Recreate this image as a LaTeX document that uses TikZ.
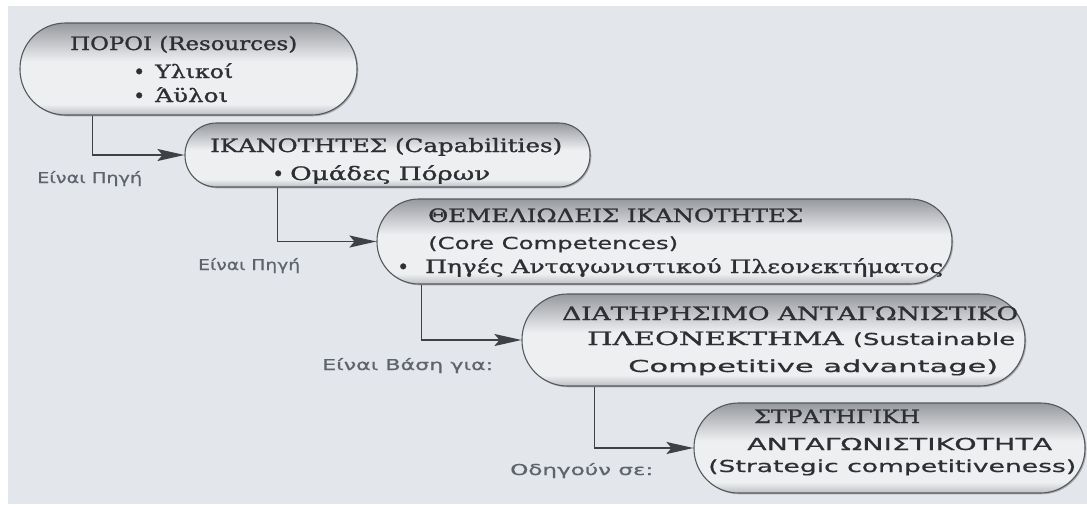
\documentclass[tikz,border=0pt]{standalone}
\usepackage{graphicx}
\usepackage{fontspec}
\setmainfont{DejaVu Serif}[FakeBold=1.2]
\setsansfont{DejaVu Sans}[FakeBold=0.6]
\usetikzlibrary{arrows.meta,shadows}

\definecolor{paper}{RGB}{227,230,235}
\definecolor{ink}{RGB}{45,47,52}
\definecolor{labelink}{RGB}{95,100,108}
\definecolor{wire}{RGB}{62,66,70}
\definecolor{rim}{RGB}{85,88,93}
\definecolor{pilltop}{RGB}{150,153,158}
\definecolor{pillhi}{RGB}{238,239,241}
\definecolor{pillbot}{RGB}{188,191,195}

% glossy vertical fill of the rounded boxes (path maps to 25bp..75bp)
\pgfdeclareverticalshading{pill}{100bp}{color(0bp)=(pillbot); color(25bp)=(pillbot);
  color(31bp)=(pillhi); color(54bp)=(pillhi); color(75bp)=(pilltop); color(100bp)=(pilltop)}

% set a line of text to a given width, keeping its height
\newcommand{\fitw}[2]{\resizebox{#1pt}{\height}{#2}}
% bullet in a box of given width; it adds no height to the line
\newcommand{\bul}[1]{\makebox[#1pt][l]{\raisebox{-0.8pt}[0pt][0pt]{\makebox[14pt][c]{\fontsize{20}{20}\selectfont•}}}}

\tikzset{
  pillbox/.style={draw=rim, line width=1.1pt, shading=pill, inner sep=0pt,
    drop shadow={shadow xshift=1.3pt, shadow yshift=-1.3pt, fill=black, opacity=0.25}},
  txt/.style={anchor=base west, inner sep=0pt, text=ink,
    font=\fontsize{18.5}{20}\selectfont},
  stxt/.style={txt, font=\sffamily\fontsize{16.5}{20}\selectfont},
  lbl/.style={anchor=base west, inner sep=0pt, text=labelink,
    font=\sffamily\fontsize{15}{17}\selectfont},
  wirearrow/.style={draw=wire, line width=1.9pt,
    -{Stealth[length=27pt,width=12pt,inset=5pt]}}
}

\begin{document}
\begin{tikzpicture}[x=1pt,y=-1pt]
  % page
  \fill[white] (0,0) rectangle (1087,504);
  \fill[paper] (8,6) rectangle (1087,504);
  \useasboundingbox (0,0) rectangle (1087,504);

  % boxes
  \node[pillbox, minimum width=337pt, minimum height=92pt, rounded corners=45.5pt]
    (res) at (188.5,69) {};
  \node[pillbox, minimum width=405pt, minimum height=64pt, rounded corners=31.5pt]
    (cap) at (387.5,155) {};
  \node[pillbox, minimum width=575pt, minimum height=85pt, rounded corners=42pt]
    (core) at (664.5,241.5) {};
  \node[pillbox, minimum width=503pt, minimum height=92pt, rounded corners=45.5pt]
    (sca) at (773.5,340) {};
  \node[pillbox, minimum width=391pt, minimum height=90pt, rounded corners=44.5pt]
    (sc) at (889.5,448) {};

  % box texts
  \node[txt] (res-t)  at (70,50)   {\fitw{227}{ΠΟΡΟΙ (Resources)}};
  \node[txt] (res-b1) at (132,78)  {\bul{23}\fitw{78}{Υλικοί}};
  \node[txt] (res-b2) at (132,102) {\bul{23}\fitw{73}{Άϋλοι}};

  \node[txt] (cap-t) at (210,152) {\fitw{352}{ΙΚΑΝΟΤΗΤΕΣ (Capabilities)}};
  \node[txt] (cap-b) at (271,180) {\bul{19}\fitw{200}{Ομάδες Πόρων}};

  \node[txt]  (core-t) at (428,222) {\fitw{375}{ΘΕΜΕΛΙΩΔΕΙΣ ΙΚΑΝΟΤΗΤΕΣ}};
  \node[stxt] (core-e) at (428,249) {\fitw{250}{(Core Competences)}};
  \node[txt]  (core-b) at (396,273) {\bul{29}\fitw{518}{Πηγές Ανταγωνιστικού Πλεονεκτήματος}};

  \node[txt]  (sca-t1) at (562,320) {\fitw{456}{ΔΙΑΤΗΡΗΣΙΜΟ ΑΝΤΑΓΩΝΙΣΤΙΚΟ}};
  \node[txt]  (sca-t2) at (587,345) {\fitw{428}{ΠΛΕΟΝΕΚΤΗΜΑ {\sffamily\fontsize{16.5}{20}\selectfont(Sustainable}}};
  \node[stxt] (sca-t3) at (628,372) {\fitw{370}{Competitive advantage)}};

  \node[txt]  (sc-t1) at (754,423) {\fitw{166}{ΣΤΡΑΤΗΓΙΚΗ}};
  \node[stxt] (sc-t2) at (747,450) {\fitw{305}{ΑΝΤΑΓΩΝΙΣΤΙΚΟΤΗΤΑ}};
  \node[stxt] (sc-t3) at (708,472) {\fitw{368}{(Strategic competitiveness)}};

  % connectors
  \draw[wirearrow] ([xshift=73pt]res.south west)  |- (cap.west);
  \draw[wirearrow] ([xshift=93pt]cap.south west)  |- (core.west);
  \draw[wirearrow] ([xshift=45pt]core.south west) |- (sca.west);
  \draw[wirearrow] ([xshift=73pt]sca.south west)  |- (sc.west);

  % connector labels
  \node[lbl] (l1) at (37,183)  {\fitw{105}{Είναι Πηγή}};
  \node[lbl] (l2) at (198,270) {\fitw{102}{Είναι Πηγή}};
  \node[lbl] (l3) at (322,370) {\fitw{171}{Είναι Βάση για:}};
  \node[lbl] (l4) at (510,475) {\fitw{143}{Οδηγούν σε:}};
\end{tikzpicture}
\end{document}
